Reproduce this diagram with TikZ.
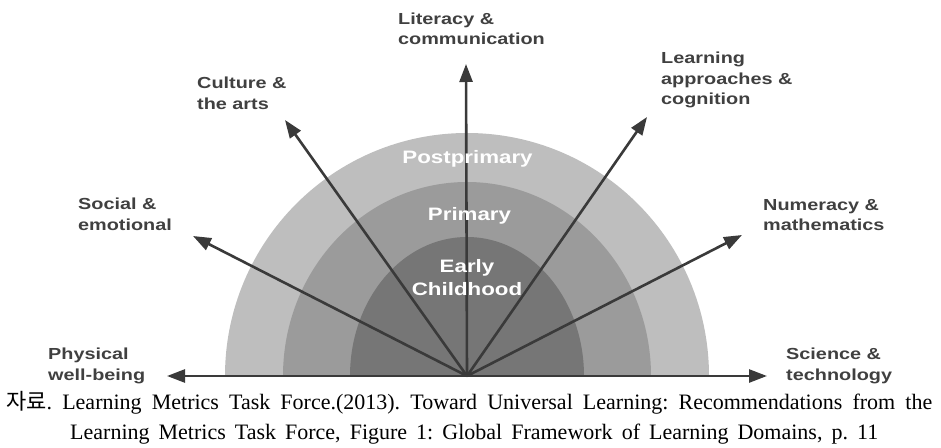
\documentclass[tikz,border=0pt]{standalone}
\usepackage{fontspec}
\setmainfont{Liberation Serif}
\newfontfamily\domainfont[FakeStretch=1.24]{Liberation Sans}
\newfontfamily\cjkfont{Noto Sans CJK KR}
\usetikzlibrary{arrows.meta}

\definecolor{ringouter}{RGB}{190,190,190}
\definecolor{ringmiddle}{RGB}{155,155,155}
\definecolor{ringinner}{RGB}{118,118,118}
\definecolor{arrowgray}{RGB}{58,58,58}
\definecolor{labelgray}{RGB}{64,64,64}

\tikzset{
  domainarrow/.style={draw=arrowgray, line width=2.6pt,
    -{Triangle[length=18pt,width=13pt]}},
  domainlabel/.style={font=\domainfont\bfseries\fontsize{16}{20.5}\selectfont,
    text=labelgray, align=left, anchor=north west, inner sep=0pt},
  stagelabel/.style={font=\domainfont\bfseries\fontsize{18}{23}\selectfont,
    text=white, align=center, inner sep=0pt},
  captionline/.style={font=\fontsize{22}{27}\selectfont, anchor=base west,
    inner sep=0pt, text=black}
}

\begin{document}
\frenchspacing
\begin{tikzpicture}[x=1pt,y=1pt]
  \useasboundingbox (0,0) rectangle (941,447);

  % common origin of all domain arrows
  \coordinate (c) at (467,71);

  % stages of education as nested half ellipses
  \fill[ringouter]  ([xshift=-242pt]c) arc[start angle=180,end angle=0,x radius=242pt,y radius=243pt] -- cycle;
  \fill[ringmiddle] ([xshift=-184pt]c) arc[start angle=180,end angle=0,x radius=184pt,y radius=194pt] -- cycle;
  \fill[ringinner]  ([xshift=-117pt]c) arc[start angle=180,end angle=0,x radius=117pt,y radius=139pt] -- cycle;

  % arrow end points
  \coordinate (phy) at (167,71);
  \coordinate (soc) at (193,211);
  \coordinate (cul) at (285,327);
  \coordinate (lit) at (466,383);
  \coordinate (lea) at (647,330);
  \coordinate (num) at (742,212);
  \coordinate (sci) at (767,71);

  \foreach \t in {phy,soc,cul,lit,lea,num,sci}
    \draw[domainarrow] (c) -- (\t);

  % stage names
  \node[stagelabel, anchor=base] (post) at (467.5,283) {Postprimary};
  \node[stagelabel, anchor=base] (prim) at (469.5,226) {Primary};
  \node[stagelabel, anchor=north] (early) at (467,187.5) {Early\\Childhood};

  % learning domains
  \node[domainlabel] (tlit) at (398,434.7) {Literacy \&\\communication};
  \node[domainlabel] (tcul) at (197,370) {Culture \&\\the arts};
  \node[domainlabel] (tlea) at (661,395) {Learning\\approaches \&\\cognition};
  \node[domainlabel] (tsoc) at (78,249) {Social \&\\emotional};
  \node[domainlabel] (tnum) at (763,248) {Numeracy \&\\mathematics};
  \node[domainlabel] (tphy) at (48,99) {Physical\\well-being};
  \node[domainlabel] (tsci) at (786,99) {Science \&\\technology};

  % source note
  \node[captionline] (cap1) at (6,38)
    {\makebox[926pt][s]{{\cjkfont 자료}. Learning Metrics Task Force.(2013). Toward Universal Learning: Recommendations from the}};
  \node[captionline] (cap2) at (70,8)
    {\makebox[808pt][s]{Learning Metrics Task Force, Figure 1: Global Framework of Learning Domains, p. 11}};
\end{tikzpicture}
\end{document}
